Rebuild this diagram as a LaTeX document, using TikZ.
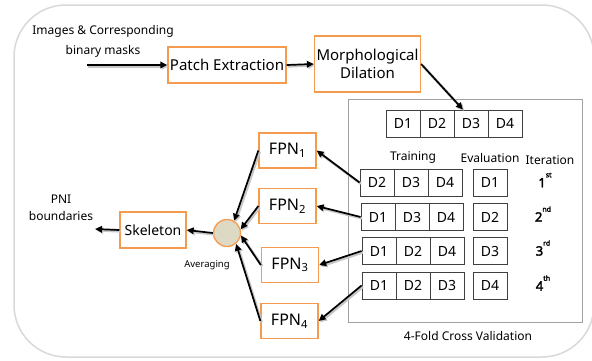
\documentclass[tikz,border=0pt]{standalone}
\usepackage{fontspec}
\setmainfont{Noto Sans}
\newfontfamily\numfont[FakeBold=2.5]{Noto Sans}
\usetikzlibrary{arrows.meta}

\definecolor{boxorange}{RGB}{244,155,80}
\definecolor{avgfill}{RGB}{221,217,195}
\definecolor{framegray}{RGB}{217,217,217}
\definecolor{foldgray}{RGB}{160,160,160}
\definecolor{cellgray}{RGB}{64,64,64}

\newcommand{\fs}[1]{\fontsize{#1}{#1}\selectfont}
\newcommand{\iter}[2]{{\numfont\fs{13}#1}\raisebox{10pt}{\numfont\fs{7}#2}}

\begin{document}
\begin{tikzpicture}[x=1pt,y=-1pt,
  stagebox/.style={draw=boxorange, line width=1.3pt, fill=white, inner sep=2pt},
  cell/.style={draw=cellgray, line width=0.9pt, minimum width=34, minimum height=27, inner sep=0pt, font=\fs{14}},
  flow/.style={-{Triangle[length=7pt,width=6.5pt]}, line width=1.7pt,
    preaction={draw=black!22, line width=2.6pt, transform canvas={shift={(1.3pt,-1.3pt)}}}},
  lbl/.style={inner sep=0pt, font=\fs{12}}]
\useasboundingbox (0,0) rectangle (592,360);

\draw[draw=framegray, line width=1.5pt, rounded corners=52] (14,5) rectangle (594,357);
\draw[draw=foldgray, line width=0.8pt] (348,99) rectangle (582,322);

\node[lbl] (in1) at (103,31) {Images \& Corresponding};
\node[lbl] (in2) at (103,51) {binary masks};
\coordinate (src) at (87,65);

\node[stagebox, minimum width=118, minimum height=36, font=\fs{15}] (patch) at (227,65) {Patch Extraction};
\node[stagebox, minimum width=103, minimum height=56, align=center, font=\fs{15}] (morph) at (367.5,64) {Morphological\\[3pt]Dilation};

% all folds
\node[cell] (t1) at (403,123.5) {D1};
\node[cell] (t2) at (437,123.5) {D2};
\node[cell] (t3) at (471,123.5) {D3};
\node[cell] (t4) at (505,123.5) {D4};

\node[lbl] (train) at (413,158) {Training};
\node[lbl] (eval) at (490,158) {Evaluation};
\node[lbl] (iteration) at (550,160) {Iteration};

% training folds
\node[cell] (a1) at (377,182.5) {D2};
\node[cell] (a2) at (411,182.5) {D3};
\node[cell] (a3) at (445,182.5) {D4};
\node[cell] (b1) at (378,217) {D1};
\node[cell] (b2) at (412,217) {D3};
\node[cell] (b3) at (446,217) {D4};
\node[cell] (c1) at (379,251) {D1};
\node[cell] (c2) at (413,251) {D2};
\node[cell] (c3) at (447,251) {D4};
\node[cell] (d1) at (379,285.5) {D1};
\node[cell] (d2) at (413,285.5) {D2};
\node[cell] (d3) at (447,285.5) {D3};

% evaluation folds
\node[cell] (ea) at (490,182.5) {D1};
\node[cell] (eb) at (490,217) {D2};
\node[cell] (ec) at (490,251) {D3};
\node[cell] (ed) at (490,285.5) {D4};

\node[inner sep=0pt] (n1) at (545,180) {\iter{1}{st}};
\node[inner sep=0pt] (n2) at (543,214) {\iter{2}{nd}};
\node[inner sep=0pt] (n3) at (543,248) {\iter{3}{rd}};
\node[inner sep=0pt] (n4) at (543,283) {\iter{4}{th}};

\node[lbl] (cv) at (468,336) {4-Fold Cross Validation};

% networks
\node[stagebox, minimum width=57, minimum height=35, font=\fs{16}] (fpn1) at (287.5,150.5) {FPN\textsubscript{1}};
\node[stagebox, minimum width=57, minimum height=35, font=\fs{16}] (fpn2) at (287.5,206) {FPN\textsubscript{2}};
\node[stagebox, minimum width=57, minimum height=35, font=\fs{16}] (fpn3) at (290,265) {FPN\textsubscript{3}};
\node[stagebox, minimum width=57, minimum height=35, font=\fs{16}] (fpn4) at (289.5,321) {FPN\textsubscript{4}};

\node[circle, draw=boxorange, line width=1.3pt, fill=avgfill, minimum size=27, inner sep=0pt] (avg) at (227,233) {};
\node[inner sep=0pt, font=\fs{9.5}] (avglbl) at (207,265) {Averaging};

\node[stagebox, minimum width=66, minimum height=36, font=\fs{14}] (skel) at (153,230) {Skeleton};
\node[lbl, align=center] (pni) at (61,208) {PNI\\[5pt]boundaries};
\coordinate (dst) at (95,229);

\draw[flow] (src) -- (patch.west);
\draw[flow] (patch.east) -- (morph.west);
\draw[flow] (morph.east) -- (t3.120);

\draw[flow] (a1.west) -- (fpn1.east);
\draw[flow] (b1.west) -- (fpn2.east);
\draw[flow] (c1.west) -- (fpn3.east);
\draw[flow] (d1.west) -- (fpn4.east);

\draw[flow] (fpn1.west) -- (avg.60);
\draw[flow] (fpn2.west) -- (avg.15);
\draw[flow] (fpn3.west) -- (avg.-10);
\draw[flow] (fpn4.west) -- (avg.-50);

\draw[flow] (avg.west) -- (skel.east);
\draw[flow] (skel.west) -- (dst);
\end{tikzpicture}
\end{document}
